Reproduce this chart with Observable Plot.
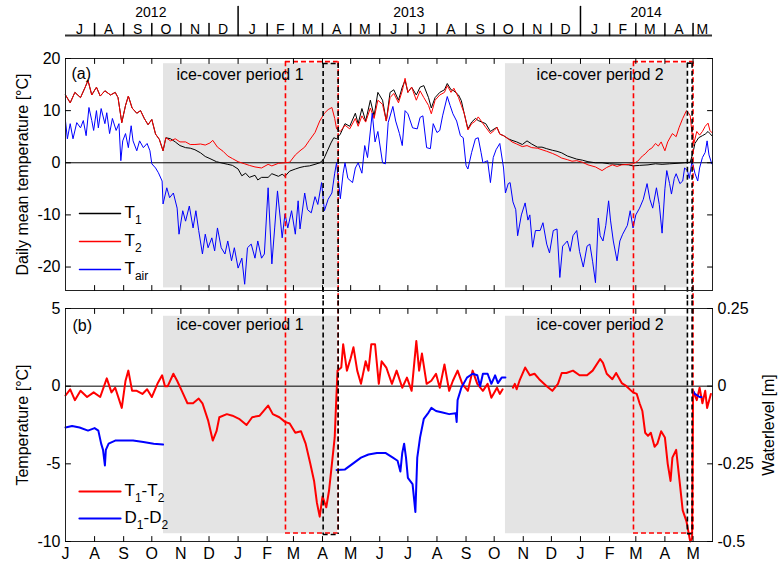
<!DOCTYPE html>
<html><head><meta charset="utf-8">
<script src="https://cdn.jsdelivr.net/npm/d3@7"></script>
<script src="https://cdn.jsdelivr.net/npm/@observablehq/plot@0.6"></script>
<style>
body{margin:0;background:#fff;}
#chart{width:778px;height:566px;overflow:hidden;background:#fff;}
#chart svg{display:block;overflow:hidden;}
</style></head><body><div id="chart"></div>
<script>
// ---------------- data ----------------
const xStart = "2012-07-01", xEnd = "2014-05-21T18:00Z";
const monthStarts = ["2012-07-01","2012-08-01","2012-09-01","2012-10-01","2012-11-01","2012-12-01","2013-01-01","2013-02-01","2013-03-01","2013-04-01","2013-05-01","2013-06-01","2013-07-01","2013-08-01","2013-09-01","2013-10-01","2013-11-01","2013-12-01","2014-01-01","2014-02-01","2014-03-01","2014-04-01","2014-05-01"];
const monthLetters = ["J","A","S","O","N","D","J","F","M","A","M","J","J","A","S","O","N","D","J","F","M","A","M"];
const monthMids = ["2012-07-16","2012-08-16","2012-09-16","2012-10-16","2012-11-16","2012-12-16","2013-01-16","2013-02-15","2013-03-16","2013-04-16","2013-05-16","2013-06-16","2013-07-16","2013-08-16","2013-09-16","2013-10-16","2013-11-16","2013-12-16","2014-01-16","2014-02-15","2014-03-16","2014-04-16","2014-05-11"];
const yearLabels = ["2012","2013","2014"];
const yearMids = ["2012-09-30","2013-07-02","2014-03-12"];
const yearSeps = ["2013-01-01","2014-01-01"];
const tempTicksA = [20,10,0,-10,-20];
const tempTicksB = [5,0,-5,-10];
const waterTicks = [0.25,0,-0.25,-0.5];

const icePeriods = [
  {label:"ice-cover period 1", start:"2012-10-13T12:00Z", end:"2013-04-17", mid:"2013-01-03"},
  {label:"ice-cover period 2", start:"2013-10-13", end:"2014-04-25", mid:"2014-01-22"}
];
const boxes = [
  {color:"#ff0000", x1:"2013-02-20T12:00Z", x2:"2013-04-17T16:00Z", topA:19.4, bottomB:-9.45},
  {color:"#000000", x1:"2013-04-01T16:00Z", x2:"2013-04-17T16:00Z", topA:19.05, bottomB:-9.55},
  {color:"#ff0000", x1:"2014-02-26T12:00Z", x2:"2014-05-01", topA:19.4, bottomB:-9.45},
  {color:"#000000", x1:"2014-04-25", x2:"2014-04-30", topA:19.1, bottomB:-9.5}
];

const T1 = [["2012-07-01",13.0],["2012-07-06",11.5],["2012-07-11",13.5],["2012-07-17",12.5],["2012-07-22",14.5],["2012-07-25",15.8],["2012-07-29",13.0],["2012-08-03",14.5],["2012-08-07",12.8],["2012-08-12",13.8],["2012-08-18",13.0],["2012-08-23",13.5],["2012-08-26",12.5],["2012-08-30",7.7],["2012-09-03",11.0],["2012-09-06",12.8],["2012-09-10",10.5],["2012-09-15",9.5],["2012-09-19",10.0],["2012-09-23",8.5],["2012-09-27",7.3],["2012-10-01",8.3],["2012-10-05",5.5],["2012-10-09",4.5],["2012-10-13",2.3],["2012-10-16",4.8],
["2012-10-21",4.6],["2012-10-26",4.0],["2012-10-31",3.3],["2012-11-06",2.9],["2012-11-11",2.8],["2012-11-16",2.5],["2012-11-22",1.9],["2012-11-27",1.2],["2012-12-02",0.8],["2012-12-09",0.2],["2012-12-16",-0.1],["2012-12-21",-0.3],["2012-12-26",-0.5],["2013-01-01",-1.2],["2013-01-05",-2.5],["2013-01-09",-2.0],["2013-01-13",-2.8],["2013-01-19",-2.4],["2013-01-22",-3.3],["2013-01-26",-2.8],["2013-02-02",-2.8],["2013-02-06",-2.1],["2013-02-13",-2.6],["2013-02-17",-2.2],["2013-02-20",-2.6],["2013-02-25",-1.6],["2013-03-03",-1.2],["2013-03-08",-0.9],["2013-03-13",-0.7],["2013-03-18",-0.6],["2013-03-24",-0.3],["2013-03-29",0.0],["2013-04-02",0.6],["2013-04-06",2.2],["2013-04-10",3.8],["2013-04-13",4.8],["2013-04-16",4.6],["2013-04-20",5.5],["2013-04-25",7.5],["2013-04-30",7.0],["2013-05-06",9.5],["2013-05-09",7.5],["2013-05-13",10.4],["2013-05-17",8.0],["2013-05-22",12.0],["2013-05-26",9.0],["2013-05-30",13.5],["2013-06-04",12.0],["2013-06-08",8.0],["2013-06-12",13.5],["2013-06-16",14.0],["2013-06-21",12.0],["2013-06-25",14.5],["2013-06-28",15.8],["2013-07-01",13.5],["2013-07-05",14.5],["2013-07-10",13.0],["2013-07-14",14.5],["2013-07-18",14.8],["2013-07-23",12.5],["2013-07-26",10.5],["2013-07-30",12.5],["2013-08-04",13.5],["2013-08-09",14.0],["2013-08-12",15.2],["2013-08-16",14.0],["2013-08-19",13.8],["2013-08-24",13.0],["2013-08-27",11.9],["2013-08-30",9.5],["2013-09-03",6.5],["2013-09-07",7.8],["2013-09-11",8.5],["2013-09-14",8.1],["2013-09-18",7.8],["2013-09-22",7.5],["2013-09-27",6.0],["2013-10-01",6.5],["2013-10-04",6.8],["2013-10-07",5.5],["2013-10-11",5.2],["2013-10-16",4.6],["2013-10-20",4.3],["2013-10-25",4.0],["2013-10-31",3.5],["2013-11-05",4.2],["2013-11-10",3.6],["2013-11-16",3.0],["2013-11-21",3.0],["2013-11-26",2.7],["2013-12-02",2.4],["2013-12-07",2.2],["2013-12-12",1.9],["2013-12-18",1.3],["2013-12-23",1.0],["2013-12-28",0.7],["2014-01-03",0.5],["2014-01-09",0.2],["2014-01-17",0.0],["2014-01-24",0.0],["2014-02-01",-0.2],["2014-02-12",-0.3],["2014-02-21",-0.4],["2014-02-26",-0.6],["2014-03-05",-0.5],["2014-03-14",-0.4],["2014-03-22",-0.2],["2014-03-29",-0.3],["2014-04-06",-0.2],["2014-04-15",-0.1],["2014-04-22",0.0],["2014-04-28",0.1],["2014-05-01",2.0],["2014-05-03",3.7],["2014-05-07",4.8],["2014-05-11",5.2],["2014-05-14",5.5],["2014-05-17",6.0],["2014-05-19",5.6],["2014-05-21",5.2]];

const T2 = [["2012-07-01",13.0],["2012-07-06",11.5],["2012-07-11",13.5],["2012-07-17",12.5],["2012-07-22",14.5],["2012-07-25",15.8],["2012-07-29",13.0],["2012-08-03",14.5],["2012-08-07",12.8],["2012-08-12",13.8],["2012-08-18",13.0],["2012-08-23",13.5],["2012-08-26",12.5],["2012-08-30",7.7],["2012-09-03",11.0],["2012-09-06",12.8],["2012-09-10",10.5],["2012-09-15",9.5],["2012-09-19",10.0],["2012-09-23",8.5],["2012-09-27",7.3],["2012-10-01",8.3],["2012-10-05",5.5],["2012-10-09",4.5],["2012-10-13",2.3],["2012-10-16",4.8],
["2012-10-21",4.2],["2012-10-26",4.6],["2012-10-31",4.0],["2012-11-06",4.0],["2012-11-11",3.5],["2012-11-16",3.5],["2012-11-22",3.6],["2012-11-27",3.4],["2012-12-02",3.8],["2012-12-05",4.3],["2012-12-10",3.0],["2012-12-16",2.2],["2012-12-21",1.3],["2012-12-26",0.8],["2013-01-01",0.2],["2013-01-08",-0.2],["2013-01-13",-0.5],["2013-01-19",-0.8],["2013-01-26",-1.0],["2013-02-02",-0.3],["2013-02-06",-0.6],["2013-02-13",-0.1],["2013-02-20",0.0],["2013-02-25",0.1],["2013-03-03",1.5],["2013-03-08",2.3],["2013-03-13",3.0],["2013-03-18",4.3],["2013-03-24",5.8],["2013-03-29",8.0],["2013-04-03",9.5],["2013-04-07",10.2],["2013-04-11",10.6],["2013-04-14",8.5],["2013-04-16",6.5],["2013-04-20",6.0],["2013-04-25",7.2],["2013-04-30",6.5],["2013-05-06",8.5],["2013-05-09",7.0],["2013-05-13",9.0],["2013-05-17",7.8],["2013-05-22",10.5],["2013-05-26",8.5],["2013-05-30",12.0],["2013-06-04",11.2],["2013-06-08",8.0],["2013-06-12",12.5],["2013-06-16",13.3],["2013-06-21",11.5],["2013-06-25",13.8],["2013-06-28",16.2],["2013-07-01",13.5],["2013-07-05",14.5],["2013-07-10",12.0],["2013-07-14",13.8],["2013-07-18",12.5],["2013-07-23",11.0],["2013-07-26",9.4],["2013-07-30",12.0],["2013-08-04",13.0],["2013-08-09",13.5],["2013-08-12",14.8],["2013-08-16",13.5],["2013-08-19",14.3],["2013-08-24",12.5],["2013-08-27",11.0],["2013-08-30",9.5],["2013-09-03",6.3],["2013-09-07",7.5],["2013-09-11",8.0],["2013-09-14",8.8],["2013-09-18",7.8],["2013-09-22",6.8],["2013-09-27",5.6],["2013-10-01",6.2],["2013-10-04",6.8],["2013-10-07",5.5],["2013-10-11",5.2],["2013-10-16",4.6],["2013-10-20",4.0],["2013-10-25",3.6],["2013-10-31",3.1],["2013-11-05",3.3],["2013-11-10",2.9],["2013-11-16",2.8],["2013-11-21",2.5],["2013-11-26",2.2],["2013-12-02",1.8],["2013-12-07",1.4],["2013-12-12",0.9],["2013-12-18",0.6],["2013-12-23",0.3],["2013-12-28",0.4],["2014-01-03",0.1],["2014-01-09",-0.4],["2014-01-17",-0.8],["2014-01-24",-1.5],["2014-01-29",-0.9],["2014-02-04",-0.4],["2014-02-09",-0.7],["2014-02-14",-0.4],["2014-02-21",-0.3],["2014-02-26",-0.2],["2014-03-03",0.3],["2014-03-08",1.3],["2014-03-11",1.7],["2014-03-15",2.5],["2014-03-18",2.8],["2014-03-22",3.7],["2014-03-25",3.2],["2014-03-28",4.0],["2014-04-01",2.3],["2014-04-04",4.0],["2014-04-09",5.6],["2014-04-13",5.0],["2014-04-16",6.7],["2014-04-20",8.5],["2014-04-24",10.0],["2014-04-26",9.6],["2014-04-28",9.0],["2014-04-30",5.5],["2014-05-02",3.8],["2014-05-05",6.0],["2014-05-08",5.3],["2014-05-11",6.0],["2014-05-14",7.0],["2014-05-17",7.6],["2014-05-19",6.2],["2014-05-21",5.8]];

const Tair = [["2012-07-01",8.0],["2012-07-03",4.6],["2012-07-06",7.5],["2012-07-09",4.6],["2012-07-13",7.7],["2012-07-17",6.7],["2012-07-20",8.1],["2012-07-23",5.2],["2012-07-26",10.6],["2012-07-29",8.1],["2012-07-31",6.2],["2012-08-03",10.0],["2012-08-05",6.7],["2012-08-08",10.4],["2012-08-12",7.5],["2012-08-14",9.6],["2012-08-17",5.6],["2012-08-20",8.5],["2012-08-24",6.2],["2012-08-27",7.5],["2012-08-29",0.4],["2012-08-31",4.2],["2012-09-03",5.6],["2012-09-06",2.9],["2012-09-09",7.1],["2012-09-11",4.2],["2012-09-15",2.3],["2012-09-18",4.2],["2012-09-22",2.9],["2012-09-26",3.7],["2012-09-29",2.3],["2012-10-01",-0.2],["2012-10-05",-1.0],["2012-10-08",-1.9],["2012-10-12",-3.5],["2012-10-13",-7.9],["2012-10-17",-4.8],["2012-10-20",-6.7],["2012-10-24",-5.8],["2012-10-28",-8.7],["2012-10-30",-13.7],["2012-11-03",-9.2],["2012-11-06",-11.2],["2012-11-10",-8.3],["2012-11-14",-12.5],["2012-11-17",-9.2],["2012-11-20",-13.0],["2012-11-24",-17.5],["2012-11-27",-13.7],["2012-11-30",-16.3],["2012-12-04",-14.4],["2012-12-07",-16.9],["2012-12-10",-12.5],["2012-12-14",-16.3],["2012-12-18",-17.5],["2012-12-21",-15.0],["2012-12-25",-18.8],["2012-12-28",-16.3],["2013-01-01",-20.2],["2013-01-05",-18.3],["2013-01-08",-23.3],["2013-01-11",-16.3],["2013-01-15",-15.6],["2013-01-19",-18.3],["2013-01-22",-15.0],["2013-01-26",-18.3],["2013-01-29",-17.5],["2013-02-02",-4.8],["2013-02-06",-19.4],["2013-02-09",-12.5],["2013-02-12",-5.4],["2013-02-17",-14.4],["2013-02-20",-9.8],["2013-02-23",-12.5],["2013-02-27",-9.2],["2013-03-03",-13.7],["2013-03-06",-7.3],["2013-03-08",-12.7],["2013-03-13",-5.8],["2013-03-16",-9.0],["2013-03-20",-9.6],["2013-03-24",-6.5],["2013-03-27",-8.0],["2013-03-31",-3.8],["2013-04-03",-9.2],["2013-04-07",-7.0],["2013-04-11",-5.8],["2013-04-14",-2.0],["2013-04-16",0.0],["2013-04-20",-6.9],["2013-04-23",-2.0],["2013-04-25",0.0],["2013-04-28",-3.0],["2013-05-03",-3.8],["2013-05-06",-1.0],["2013-05-09",0.0],["2013-05-13",-2.0],["2013-05-16",3.3],["2013-05-19",1.0],["2013-05-24",9.5],["2013-05-27",4.0],["2013-05-30",6.0],["2013-06-04",0.0],["2013-06-07",-0.2],["2013-06-10",7.7],["2013-06-15",10.8],["2013-06-18",8.0],["2013-06-22",5.6],["2013-06-25",3.3],["2013-06-28",10.0],["2013-07-01",9.4],["2013-07-06",6.7],["2013-07-11",6.5],["2013-07-14",8.7],["2013-07-17",9.0],["2013-07-21",2.9],["2013-07-25",2.7],["2013-07-28",7.5],["2013-08-01",5.8],["2013-08-04",6.2],["2013-08-07",9.0],["2013-08-12",12.7],["2013-08-15",11.0],["2013-08-18",9.4],["2013-08-22",8.0],["2013-08-26",5.2],["2013-08-29",4.8],["2013-09-01",-0.5],["2013-09-03",-1.2],["2013-09-07",2.0],["2013-09-11",4.6],["2013-09-14",4.8],["2013-09-17",2.0],["2013-09-19",0.0],["2013-09-24",0.4],["2013-09-27",-3.8],["2013-09-30",1.0],["2013-10-03",2.5],["2013-10-07",3.7],["2013-10-11",-1.0],["2013-10-13",-5.8],["2013-10-16",-4.0],["2013-10-18",-3.8],["2013-10-21",-7.5],["2013-10-24",-9.0],["2013-10-26",-14.0],["2013-10-30",-10.0],["2013-11-03",-7.7],["2013-11-06",-11.0],["2013-11-08",-10.0],["2013-11-11",-16.2],["2013-11-14",-13.0],["2013-11-19",-13.0],["2013-11-22",-11.5],["2013-11-26",-15.6],["2013-11-29",-17.3],["2013-12-03",-13.0],["2013-12-07",-12.7],["2013-12-10",-22.0],["2013-12-13",-16.0],["2013-12-18",-15.0],["2013-12-21",-17.0],["2013-12-24",-14.0],["2013-12-28",-13.0],["2013-12-31",-17.0],["2014-01-04",-20.0],["2014-01-08",-16.0],["2014-01-11",-15.6],["2014-01-14",-19.0],["2014-01-17",-23.0],["2014-01-20",-10.6],["2014-01-22",-14.0],["2014-01-25",-15.0],["2014-01-28",-12.0],["2014-01-31",-7.3],["2014-02-02",-11.0],["2014-02-05",-15.0],["2014-02-09",-18.8],["2014-02-12",-15.0],["2014-02-15",-13.7],["2014-02-20",-12.0],["2014-02-23",-9.2],["2014-02-26",-12.5],["2014-03-01",-10.0],["2014-03-05",-8.7],["2014-03-09",-7.0],["2014-03-13",-4.0],["2014-03-16",-7.0],["2014-03-19",-8.7],["2014-03-23",-4.8],["2014-03-26",-8.0],["2014-03-29",-13.5],["2014-04-01",-5.0],["2014-04-03",-1.5],["2014-04-06",-4.0],["2014-04-08",-6.0],["2014-04-11",-3.0],["2014-04-13",-2.1],["2014-04-17",-4.0],["2014-04-20",-3.5],["2014-04-22",-1.0],["2014-04-25",-1.5],["2014-04-27",-3.0],["2014-04-30",0.4],["2014-05-03",-2.0],["2014-05-06",-3.5],["2014-05-08",-1.0],["2014-05-11",1.0],["2014-05-14",2.0],["2014-05-16",4.2],["2014-05-18",1.5],["2014-05-21",-0.2]];

const dT12 = [["2012-07-01",-0.6],["2012-07-06",-0.2],["2012-07-11",-0.9],["2012-07-17",-0.3],["2012-07-24",-0.7],["2012-07-31",-0.4],["2012-08-07",-0.7],["2012-08-14",0.5],["2012-08-19",-0.4],["2012-08-23",-0.1],["2012-08-30",-1.4],["2012-09-03",0.35],["2012-09-06",1.0],["2012-09-10",-0.3],["2012-09-15",-0.3],["2012-09-21",-0.5],["2012-09-26",-0.2],["2012-10-01",-0.7],["2012-10-07",0.15],["2012-10-12",0.7],["2012-10-15",0.0],["2012-10-18",0.0],["2012-10-24",0.8],["2012-10-28",0.35],["2012-11-02",-0.3],["2012-11-08",-1.1],["2012-11-14",-1.1],["2012-11-20",-0.8],["2012-11-24",-1.1],["2012-11-30",-2.2],["2012-12-05",-3.5],["2012-12-09",-2.9],["2012-12-12",-2.0],["2012-12-20",-1.8],["2012-12-26",-1.9],["2013-01-02",-2.1],["2013-01-10",-2.5],["2013-01-16",-2.0],["2013-01-24",-1.9],["2013-02-02",-1.25],["2013-02-07",-1.8],["2013-02-14",-2.0],["2013-02-20",-2.3],["2013-02-25",-2.4],["2013-03-03",-3.0],["2013-03-09",-2.9],["2013-03-14",-3.7],["2013-03-19",-5.0],["2013-03-23",-6.1],["2013-03-26",-7.5],["2013-03-29",-8.4],["2013-04-01",-7.1],["2013-04-05",-7.8],["2013-04-08",-6.7],["2013-04-11",-5.0],["2013-04-14",-3.3],["2013-04-15",-1.8],["2013-04-17",1.0],["2013-04-21",1.2],["2013-04-23",2.7],["2013-04-27",1.0],["2013-05-01",1.8],["2013-05-04",2.5],["2013-05-08",1.0],["2013-05-12",0.15],["2013-05-17",1.6],["2013-05-20",1.0],["2013-05-23",2.7],["2013-05-27",2.7],["2013-05-31",0.15],["2013-06-03",1.6],["2013-06-08",1.2],["2013-06-14",0.15],["2013-06-19",1.0],["2013-06-25",-0.1],["2013-06-30",0.55],["2013-07-05",-0.3],["2013-07-10",2.9],["2013-07-13",1.0],["2013-07-16",2.1],["2013-07-21",0.15],["2013-07-26",0.35],["2013-07-31",0.8],["2013-08-04",-0.1],["2013-08-09",1.4],["2013-08-14",-0.3],["2013-08-18",0.35],["2013-08-23",1.0],["2013-08-28",0.15],["2013-09-03",-0.3],["2013-09-08",1.0],["2013-09-13",0.15],["2013-09-19",-0.3],["2013-09-24",0.15],["2013-09-28",-0.75],["2013-10-04",-0.1],["2013-10-07",-0.5],["2013-10-10",-0.2],["2013-10-15",NaN],["2013-10-21",-0.1],["2013-10-23",0.15],["2013-10-25",-0.2],["2013-10-28",0.35],["2013-11-03",1.2],["2013-11-08",0.7],["2013-11-13",0.8],["2013-11-18",0.45],["2013-11-26",0.0],["2013-12-02",-0.3],["2013-12-08",0.15],["2013-12-12",0.85],["2013-12-17",0.85],["2013-12-24",1.0],["2013-12-31",0.7],["2014-01-08",0.7],["2014-01-14",1.0],["2014-01-22",1.75],["2014-01-25",1.5],["2014-01-29",0.8],["2014-02-04",0.45],["2014-02-08",0.85],["2014-02-14",0.2],["2014-02-19",0.0],["2014-02-26",-0.4],["2014-03-02",-0.5],["2014-03-05",-1.1],["2014-03-08",-1.6],["2014-03-11",-3.0],["2014-03-14",-3.2],["2014-03-17",-3.0],["2014-03-21",-3.9],["2014-03-24",-3.7],["2014-03-28",-2.9],["2014-04-01",-3.3],["2014-04-04",-5.0],["2014-04-07",-6.1],["2014-04-09",-4.6],["2014-04-13",-4.1],["2014-04-17",-6.3],["2014-04-20",-8.0],["2014-04-24",-8.7],["2014-04-28",-10.0],["2014-04-30",-9.8],["2014-05-01",-0.3],["2014-05-05",-0.9],["2014-05-08",-0.1],["2014-05-11",-1.1],["2014-05-14",-0.3],["2014-05-16",-1.4],["2014-05-20",-0.5]];

const dD12 = [["2012-07-01",-0.133],["2012-07-08",-0.128],["2012-07-16",-0.133],["2012-07-25",-0.143],["2012-08-01",-0.135],["2012-08-05",-0.143],["2012-08-08",-0.185],["2012-08-10",-0.205],["2012-08-12",-0.255],["2012-08-13",-0.205],["2012-08-16",-0.185],["2012-08-23",-0.175],["2012-08-31",-0.175],["2012-09-11",-0.175],["2012-09-22",-0.18],["2012-10-03",-0.185],["2012-10-13",-0.188],["2012-10-14",NaN],["2013-04-16",-0.27],["2013-04-25",-0.268],["2013-05-03",-0.25],["2013-05-12",-0.23],["2013-05-20",-0.22],["2013-05-29",-0.215],["2013-06-07",-0.215],["2013-06-15",-0.23],["2013-06-20",-0.24],["2013-06-23",-0.275],["2013-06-25",-0.215],["2013-06-27",-0.185],["2013-06-29",-0.23],["2013-07-01",-0.295],["2013-07-06",-0.315],["2013-07-08",-0.375],["2013-07-09",-0.405],["2013-07-11",-0.23],["2013-07-14",-0.165],["2013-07-18",-0.105],["2013-07-23",-0.085],["2013-07-26",-0.07],["2013-07-31",-0.08],["2013-08-07",-0.085],["2013-08-14",-0.09],["2013-08-21",-0.0875],["2013-08-22",-0.115],["2013-08-23",-0.045],["2013-08-27",-0.005],["2013-09-02",0.0275],["2013-09-08",0.04],["2013-09-13",0.035],["2013-09-16",0.0],["2013-09-19",0.04],["2013-09-24",0.04],["2013-09-28",0.0075],["2013-10-02",0.035],["2013-10-05",0.01],["2013-10-09",0.0275],["2013-10-13",0.0275],["2013-10-14",NaN],["2014-05-01",-0.015],["2014-05-03",-0.025],["2014-05-08",-0.035],["2014-05-10",-0.035]];

const legendA = [{key:"T_{1}", color:"#000000"},{key:"T_{2}", color:"#ff0000"},{key:"T_{air}", color:"#0000ff"}];
const legendB = [{key:"T_{1}-T_{2}", color:"#ff0000"},{key:"D_{1}-D_{2}", color:"#0000ff"}];

// ---------------- helpers ----------------
const D = s => new Date(s);
const xDomain = [D(xStart), D(xEnd)];
const FONT = "'Liberation Sans', Arial, Helvetica, sans-serif";
const lineShape = {draw(ctx, l) { ctx.moveTo(0, 0); ctx.lineTo(0, -l); }};
const months = monthStarts.map(D);
const innerMonths = months.slice(1);

function insideTicks(yTicks) {
  const o = {length: 5, anchor: "start", shape: lineShape, stroke: "#000", strokeWidth: 1};
  return [
    Plot.vector(innerMonths, {...o, x: d => d, frameAnchor: "top", rotate: 180}),
    Plot.vector(innerMonths, {...o, x: d => d, frameAnchor: "bottom", rotate: 0}),
    Plot.vector(yTicks, {...o, y: d => d, frameAnchor: "left", rotate: 90}),
    Plot.vector(yTicks, {...o, y: d => d, frameAnchor: "right", rotate: -90})
  ];
}
function legendMarks(items, dy0, step, sw) {
  return items.flatMap((d, i) => [
    Plot.vector([d], {frameAnchor: "top-left", dx: 14, dy: dy0 + i * step, length: 41, rotate: 90, anchor: "start", shape: lineShape, stroke: d.color, strokeWidth: sw}),
    Plot.text([d], {frameAnchor: "top-left", dx: 59, dy: dy0 + i * step - 1, text: d => d.key, textAnchor: "start", lineAnchor: "middle", fontSize: 17, fill: "#000"})
  ]);
}
function subscriptify(svg) {
  const NS = "http://www.w3.org/2000/svg";
  svg.querySelectorAll("text").forEach(t => {
    const s = t.textContent;
    if (!s.includes("_{")) return;
    while (t.firstChild) t.removeChild(t.firstChild);
    const parts = s.split(/(_\{[^}]*\})/).filter(p => p.length);
    let down = false;
    for (const p of parts) {
      const ts = document.createElementNS(NS, "tspan");
      if (p.startsWith("_{")) {
        ts.textContent = p.slice(2, -1);
        ts.setAttribute("font-size", "12");
        ts.setAttribute("dy", "6");
        down = true;
      } else {
        ts.textContent = p;
        if (down) { ts.setAttribute("dy", "-6"); down = false; }
      }
      t.appendChild(ts);
    }
  });
}
const pt = a => ({date: D(a[0]), v: a[1]});
const dash = "5,3";

// ---------------- panel (a) ----------------
const panelA = Plot.plot({
  width: 778, height: 299,
  marginLeft: 65, marginRight: 66, marginTop: 58, marginBottom: 9,
  style: {fontFamily: FONT, fontSize: "16px", background: "white", overflow: "hidden"},
  x: {type: "utc", domain: xDomain, axis: null},
  y: {domain: [-24.5, 20]},
  marks: [
    Plot.rect(icePeriods, {x1: d => D(d.start), x2: d => D(d.end), y1: -24, y2: 19, fill: "#e4e4e4"}),
    Plot.ruleY([0], {stroke: "#000", strokeWidth: 1}),
    Plot.line(T1.map(pt), {x: "date", y: "v", stroke: "#000", strokeWidth: 1}),
    Plot.line(T2.map(pt), {x: "date", y: "v", stroke: "#ff0000", strokeWidth: 1}),
    Plot.line(Tair.map(pt), {x: "date", y: "v", stroke: "#0000ff", strokeWidth: 1}),
    ...boxes.map(b => Plot.ruleY([b.topA], {x1: D(b.x1), x2: D(b.x2), stroke: b.color, strokeWidth: 1.6, strokeDasharray: dash})),
    ...boxes.map(b => Plot.ruleX([D(b.x1), D(b.x2)], {y1: b.topA, y2: -27, stroke: b.color, strokeWidth: 1.6, strokeDasharray: dash})),
    Plot.frame({stroke: "#222", strokeWidth: 1}),
    ...insideTicks(tempTicksA),
    Plot.axisY(tempTicksA, {anchor: "left", tickSize: 0, tickPadding: 5, tickFormat: d => String(d), fontSize: 16, label: null}),
    Plot.text(["Daily mean temperature [°C]"], {text: d => d, frameAnchor: "left", dx: -43, rotate: -90, textAnchor: "middle", lineAnchor: "middle", fontSize: 16}),
    Plot.text(["(a)"], {text: d => d, frameAnchor: "top-left", dx: 6, dy: 15, textAnchor: "start", lineAnchor: "middle", fontSize: 16}),
    Plot.text(icePeriods, {x: d => D(d.mid), text: "label", frameAnchor: "top", dy: 16, lineAnchor: "middle", fontSize: 16}),
    ...legendMarks(legendA, 155, 28, 1.5),
    // top calendar axis
    Plot.ruleY([20], {dy: -23, stroke: "#333", strokeWidth: 2}),
    Plot.vector(innerMonths.filter(d => d.getUTCMonth() !== 0), {x: d => d, frameAnchor: "top", dy: -23, length: 12, rotate: 0, anchor: "start", shape: lineShape, stroke: "#000"}),
    Plot.vector(yearSeps.map(D), {x: d => d, frameAnchor: "top", dy: -23, length: 29, rotate: 0, anchor: "start", shape: lineShape, stroke: "#000"}),
    Plot.text(monthMids.map((m, i) => ({date: D(m), label: monthLetters[i]})), {x: "date", text: "label", frameAnchor: "top", dy: -29, lineAnchor: "middle", fontSize: 14}),
    Plot.text(yearMids.map((m, i) => ({date: D(m), label: yearLabels[i]})), {x: "date", text: "label", frameAnchor: "top", dy: -46, lineAnchor: "middle", fontSize: 14})
  ]
});

// ---------------- panel (b) ----------------
const panelB = Plot.plot({
  width: 778, height: 267,
  marginLeft: 65, marginRight: 66, marginTop: 9, marginBottom: 25,
  style: {fontFamily: FONT, fontSize: "16px", background: "white", overflow: "hidden"},
  x: {type: "utc", domain: xDomain},
  y: {domain: [-10, 5]},
  marks: [
    Plot.rect(icePeriods, {x1: d => D(d.start), x2: d => D(d.end), y1: -9.5, y2: 4.5, fill: "#e4e4e4"}),
    Plot.ruleY([0], {stroke: "#000", strokeWidth: 1}),
    Plot.line(dT12.map(pt), {x: "date", y: "v", stroke: "#ff0000", strokeWidth: 2}),
    Plot.line(dD12.map(pt), {x: "date", y: d => d.v * 20, stroke: "#0000ff", strokeWidth: 2}),
    ...boxes.map(b => Plot.ruleY([b.bottomB], {x1: D(b.x1), x2: D(b.x2), stroke: b.color, strokeWidth: 1.6, strokeDasharray: dash})),
    ...boxes.map(b => Plot.ruleX([D(b.x1), D(b.x2)], {y1: 6, y2: b.bottomB, stroke: b.color, strokeWidth: 1.6, strokeDasharray: dash})),
    Plot.frame({stroke: "#222", strokeWidth: 1}),
    ...insideTicks(tempTicksB),
    Plot.axisY(tempTicksB, {anchor: "left", tickSize: 0, tickPadding: 5, tickFormat: d => String(d), fontSize: 16, label: null}),
    Plot.axisY(waterTicks.map(w => w * 20), {anchor: "right", tickSize: 0, tickPadding: 5, tickFormat: d => String(waterTicks[tempTicksB.indexOf(d)]), fontSize: 16, label: null}),
    Plot.axisX(months, {anchor: "bottom", tickSize: 0, tickPadding: 6, tickFormat: d => monthLetters[months.findIndex(m => +m === +d)], fontSize: 16, label: null}),
    Plot.text(["Temperature [°C]"], {text: d => d, frameAnchor: "left", dx: -43, rotate: -90, textAnchor: "middle", lineAnchor: "middle", fontSize: 16}),
    Plot.text(["Waterlevel [m]"], {text: d => d, frameAnchor: "right", dx: 56, rotate: -90, textAnchor: "middle", lineAnchor: "middle", fontSize: 16}),
    Plot.text(["(b)"], {text: d => d, frameAnchor: "top-left", dx: 7, dy: 17, textAnchor: "start", lineAnchor: "middle", fontSize: 16}),
    Plot.text(icePeriods, {x: d => D(d.mid), text: "label", frameAnchor: "top", dy: 16, lineAnchor: "middle", fontSize: 16}),
    ...legendMarks(legendB, 183, 27, 2.2)
  ]
});

subscriptify(panelA);
subscriptify(panelB);
const chart = document.getElementById("chart");
chart.appendChild(panelA);
chart.appendChild(panelB);
</script>
</body></html>
